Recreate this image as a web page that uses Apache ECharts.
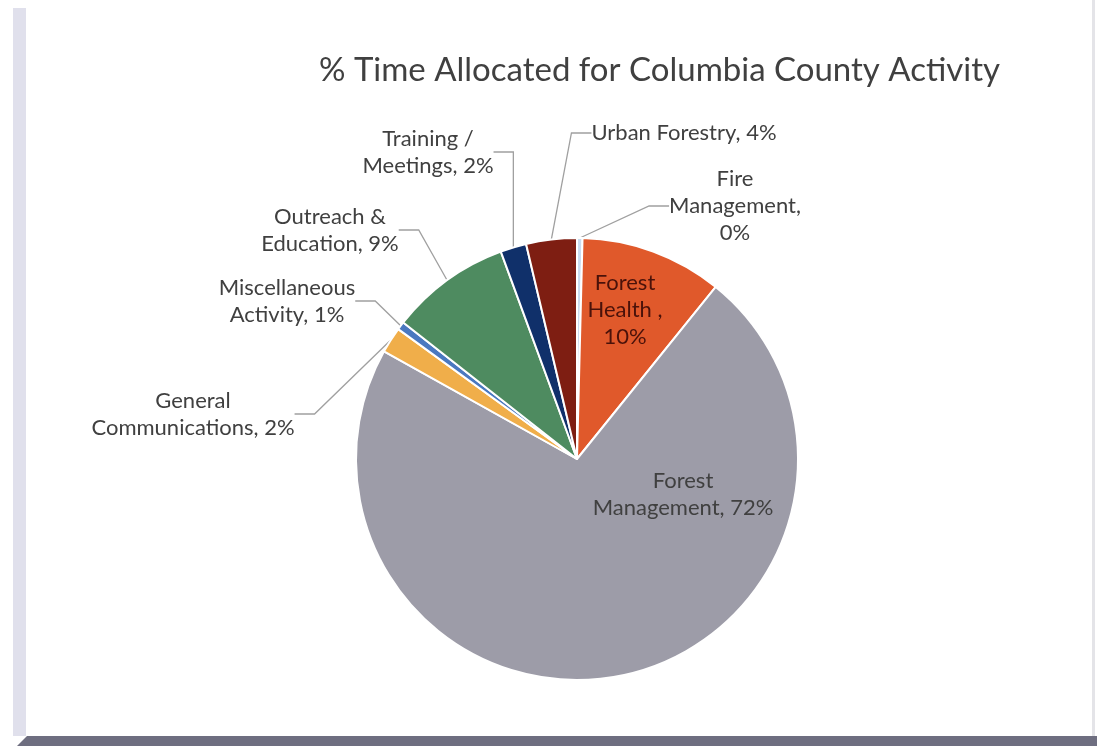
<!DOCTYPE html>
<html>
<head>
<meta charset="utf-8">
<script src="https://cdn.jsdelivr.net/npm/echarts@6/dist/echarts.min.js"></script>
<style>
html,body{margin:0;padding:0;background:#fff;}
#chart{width:1097px;height:746px;}
</style>
</head>
<body>
<div id="chart"></div>
<script>
// ---- data ----
const categories = ['Fire Management','Forest Health','Forest Management','General Communications','Miscellaneous Activity','Outreach & Education','Training / Meetings','Urban Forestry'];
const values = [0.4, 10.4, 72.3, 1.9, 0.6, 8.8, 1.9, 3.7];
const labelNames = ['Fire\nManagement,', 'Forest\nHealth ,', 'Forest\nManagement,', 'General\nCommunications,', 'Miscellaneous\nActivity,', 'Outreach &\nEducation,', 'Training /\nMeetings,', 'Urban Forestry,'];
const labelSeps = ['\n', '\n', ' ', ' ', ' ', ' ', ' ', ' '];
const titleText = '% Time Allocated for Columbia County Activity';

// ---- styling / layout (not data) ----
const colors = ['#C9DCEF','#E0592B','#9D9CA8','#F0AE4A','#4A78C0','#4E8B60','#10306A','#7E1E12'];
const insideIdx = [1, 2];
const labelPos = {
  0: [735, 206], 1: [625, 310], 2: [683, 494], 3: [193, 414],
  4: [287, 301], 5: [330, 230], 6: [428, 152], 7: [684, 133]
};
const labelColors = {1: '#4A120A'};

const chart = echarts.init(document.getElementById('chart'));
const data = categories.map((c, i) => {
  const d = { name: c, value: values[i], itemStyle: { color: colors[i] } };
  if (insideIdx.indexOf(i) >= 0) {
    d.label = { position: 'inside', color: labelColors[i] || '#404040' };
    d.labelLine = { show: false };
  }
  return d;
});

chart.setOption({
  animation: false,
  backgroundColor: '#ffffff',
  graphic: [
    { type: 'rect', shape: { x: 13, y: 8, width: 13, height: 728 }, style: { fill: '#E0E0EC' }, z: -10 },
    { type: 'polygon', shape: { points: [[17, 746], [27, 736], [1097, 736], [1097, 746]] }, style: { fill: '#6E6E80' }, z: -10 },
    { type: 'rect', shape: { x: 1092, y: 0, width: 3, height: 736 }, style: { fill: '#E4E4E8' }, z: -10 }
  ],
  title: {
    text: titleText,
    left: 314, top: 49,
    textStyle: { fontFamily: 'Lato', fontSize: 33, fontWeight: 'normal', color: '#404040' }
  },
  series: [{
    type: 'pie',
    center: [577, 459],
    radius: [0, 221],
    startAngle: 90,
    clockwise: true,
    avoidLabelOverlap: false,
    itemStyle: { borderColor: '#ffffff', borderWidth: 2 },
    label: {
      show: true,
      position: 'outside',
      fontFamily: 'Lato',
      fontSize: 22,
      lineHeight: 27,
      color: '#404040',
      align: 'center',
      formatter: p => labelNames[p.dataIndex] + labelSeps[p.dataIndex] + Math.round(p.percent) + '%'
    },
    labelLine: { show: true, length: 20, length2: 20, lineStyle: { color: '#A0A0A0', width: 1.3 } },
    labelLayout: function (params) {
      const pos = labelPos[params.dataIndex];
      return { x: pos[0], y: pos[1], align: 'center', verticalAlign: 'middle', hideOverlap: false };
    },
    emphasis: { disabled: true },
    data: data
  }]
});
</script>
</body>
</html>
